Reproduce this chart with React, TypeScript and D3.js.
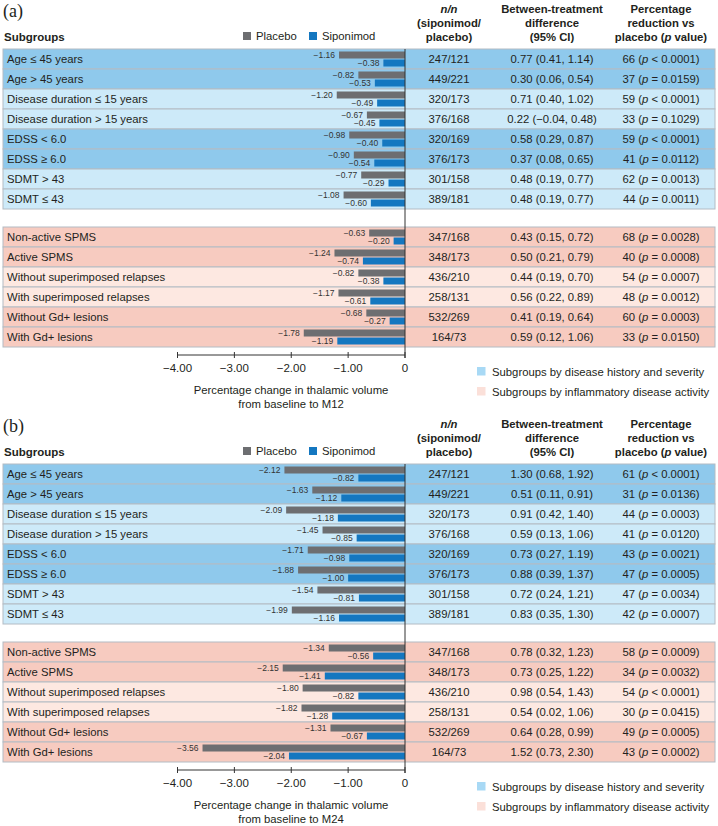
import React from "react";
import * as d3 from "d3";

const subgroups = [
  "Age ≤ 45 years",
  "Age > 45 years",
  "Disease duration ≤ 15 years",
  "Disease duration > 15 years",
  "EDSS < 6.0",
  "EDSS ≥ 6.0",
  "SDMT > 43",
  "SDMT ≤ 43",
  "Non-active SPMS",
  "Active SPMS",
  "Without superimposed relapses",
  "With superimposed relapses",
  "Without Gd+ lesions",
  "With Gd+ lesions",
];
const groupOf = [0, 0, 0, 0, 0, 0, 0, 0, 1, 1, 1, 1, 1, 1];
const nn = [
  "247/121", "449/221", "320/173", "376/168", "320/169", "376/173", "301/158",
  "389/181", "347/168", "348/173", "436/210", "258/131", "532/269", "164/73",
];

const placeboM12 = [-1.16, -0.82, -1.2, -0.67, -0.98, -0.9, -0.77, -1.08, -0.63, -1.24, -0.82, -1.17, -0.68, -1.78];
const siponimodM12 = [-0.38, -0.53, -0.49, -0.45, -0.4, -0.54, -0.29, -0.6, -0.2, -0.74, -0.38, -0.61, -0.27, -1.19];
const diffM12 = [
  "0.77 (0.41, 1.14)", "0.30 (0.06, 0.54)", "0.71 (0.40, 1.02)", "0.22 (−0.04, 0.48)",
  "0.58 (0.29, 0.87)", "0.37 (0.08, 0.65)", "0.48 (0.19, 0.77)", "0.48 (0.19, 0.77)",
  "0.43 (0.15, 0.72)", "0.50 (0.21, 0.79)", "0.44 (0.19, 0.70)", "0.56 (0.22, 0.89)",
  "0.41 (0.19, 0.64)", "0.59 (0.12, 1.06)",
];
const reductionM12 = [66, 37, 59, 33, 59, 41, 62, 44, 68, 40, 54, 48, 60, 33];
const pOpM12 = ["<", "=", "<", "=", "<", "=", "=", "=", "=", "=", "=", "=", "=", "="];
const pValM12 = ["0.0001", "0.0159", "0.0001", "0.1029", "0.0001", "0.0112", "0.0013", "0.0011", "0.0028", "0.0008", "0.0007", "0.0012", "0.0003", "0.0150"];

const placeboM24 = [-2.12, -1.63, -2.09, -1.45, -1.71, -1.88, -1.54, -1.99, -1.34, -2.15, -1.8, -1.82, -1.31, -3.56];
const siponimodM24 = [-0.82, -1.12, -1.18, -0.85, -0.98, -1.0, -0.81, -1.16, -0.56, -1.41, -0.82, -1.28, -0.67, -2.04];
const diffM24 = [
  "1.30 (0.68, 1.92)", "0.51 (0.11, 0.91)", "0.91 (0.42, 1.40)", "0.59 (0.13, 1.06)",
  "0.73 (0.27, 1.19)", "0.88 (0.39, 1.37)", "0.72 (0.24, 1.21)", "0.83 (0.35, 1.30)",
  "0.78 (0.32, 1.23)", "0.73 (0.25, 1.22)", "0.98 (0.54, 1.43)", "0.54 (0.02, 1.06)",
  "0.64 (0.28, 0.99)", "1.52 (0.73, 2.30)",
];
const reductionM24 = [61, 31, 44, 41, 43, 47, 47, 42, 58, 34, 54, 30, 49, 43];
const pOpM24 = ["<", "=", "=", "=", "=", "=", "=", "=", "=", "=", "<", "=", "=", "="];
const pValM24 = ["0.0001", "0.0136", "0.0003", "0.0120", "0.0021", "0.0005", "0.0034", "0.0007", "0.0009", "0.0032", "0.0001", "0.0415", "0.0005", "0.0002"];

const axisTicks = [-4, -3, -2, -1, 0];
const legendTreatments = ["Placebo", "Siponimod"];
const legendGroups = ["Subgroups by disease history and severity", "Subgroups by inflammatory disease activity"];

const FONT = "'Liberation Sans', Arial, Helvetica, sans-serif";
const C_PLACEBO = "#6d6e71";
const C_SIPO = "#1477c0";
const ROW_COLORS = [
  ["#8fc9ec", "#cdeaf9"],
  ["#f7cbc0", "#fde8e1"],
];
const LEGEND_COLORS = ["#a8d9f5", "#fbe0d9"];
const TEXT = "#231f20";

const fmtNeg = (v: number) => (v < 0 ? "−" + Math.abs(v).toFixed(2) : v === 0 ? "0" : v.toFixed(2));

function Panel({ oy, label, placebo, sipo, diff, red, pOp, pVal, month }: any) {
  const x = d3.scaleLinear().domain([-4, 0]).range([177.5, 405]);
  const rowH = 20;
  const tableTop = 49;
  const group2Top = 227;
  const rowTop = (i: number) => (groupOf[i] === 0 ? tableTop + i * rowH : group2Top + (i - 8) * rowH);
  const left = 3;
  const right = 715;
  const axisY = 355;
  const colN = 449;
  const colD = 552;
  const colP = 661;
  return (
    <g transform={`translate(0,${oy})`} fontFamily={FONT} fill={TEXT}>
      <text x={3} y={17} fontFamily="'Liberation Serif', 'Times New Roman', serif" fontSize={18}>
        {label}
      </text>
      <text x={4} y={41} fontWeight="bold" fontSize={11.5}>Subgroups</text>
      {legendTreatments.map((t, k) => {
        const lx = k === 0 ? 243 : 309;
        return (
          <g key={t}>
            <rect x={lx} y={32} width={8} height={8} fill={k === 0 ? C_PLACEBO : C_SIPO} />
            <text x={lx + 13} y={40} fontSize={11.3}>{t}</text>
          </g>
        );
      })}
      <g fontWeight="bold" fontSize={11.3} textAnchor="middle">
        <text x={colN} y={13} fontStyle="italic">n/n</text>
        <text x={colN} y={27}>(siponimod/</text>
        <text x={colN} y={41}>placebo)</text>
        <text x={colD} y={13}>Between-treatment</text>
        <text x={colD} y={27}>difference</text>
        <text x={colD} y={41}>(95% CI)</text>
        <text x={colP} y={13}>Percentage</text>
        <text x={colP} y={27}>reduction vs</text>
        <text x={colP} y={41}>
          placebo (<tspan fontStyle="italic">p</tspan> value)
        </text>
      </g>
      {subgroups.map((s, i) => {
        const t = rowTop(i);
        const within = groupOf[i] === 0 ? i : i - 8;
        const fill = ROW_COLORS[groupOf[i]][Math.floor(within / 2) % 2];
        return (
          <rect key={"bg" + i} x={left} y={t} width={right - left} height={rowH} fill={fill} stroke="#b3bcc4" strokeWidth={1} />
        );
      })}
      {subgroups.map((s, i) => {
        const t = rowTop(i);
        const cy = t + rowH / 2 + 4;
        return (
          <g key={"r" + i}>
            <text x={7} y={cy} fontSize={11.3}>{s}</text>
            <rect x={x(placebo[i])} y={t + 2.5} width={x(0) - x(placebo[i])} height={7} fill={C_PLACEBO} />
            <rect x={x(sipo[i])} y={t + 10.5} width={x(0) - x(sipo[i])} height={7} fill={C_SIPO} />
            <text x={x(placebo[i]) - 4} y={t + 6 + 3} fontSize={8.5} textAnchor="end" fill="#333">
              {fmtNeg(placebo[i])}
            </text>
            <text x={x(sipo[i]) - 4} y={t + 14 + 3} fontSize={8.5} textAnchor="end" fill="#333">
              {fmtNeg(sipo[i])}
            </text>
            <text x={colN} y={cy} fontSize={11.3} textAnchor="middle">{nn[i]}</text>
            <text x={colD} y={cy} fontSize={11.3} textAnchor="middle">{diff[i]}</text>
            <text x={colP} y={cy} fontSize={11.3} textAnchor="middle">
              {red[i]} (<tspan fontStyle="italic">p</tspan> {pOp[i]} {pVal[i]})
            </text>
          </g>
        );
      })}
      <line x1={x(0)} x2={x(0)} y1={tableTop} y2={axisY + 3} stroke="#333" strokeWidth={1} />
      <line x1={x(-4)} x2={x(0)} y1={axisY} y2={axisY} stroke="#333" strokeWidth={1} />
      {axisTicks.map((v) => (
        <g key={v}>
          <line x1={x(v)} x2={x(v)} y1={axisY - 3} y2={axisY + 3} stroke="#333" strokeWidth={1} />
          <text x={x(v)} y={axisY + 17} fontSize={11.5} textAnchor="middle">{fmtNeg(v)}</text>
        </g>
      ))}
      <text x={291} y={394} fontSize={11.3} textAnchor="middle">Percentage change in thalamic volume</text>
      <text x={291} y={408} fontSize={11.3} textAnchor="middle">from baseline to {month}</text>
      {legendGroups.map((g, k) => (
        <g key={g}>
          <rect x={477} y={367 + k * 20} width={8.5} height={8.5} fill={LEGEND_COLORS[k]} />
          <text x={492} y={375.5 + k * 20} fontSize={11.3}>{g}</text>
        </g>
      ))}
    </g>
  );
}

export default function App() {
  return (
    <svg width={718} height={826} style={{ position: "absolute", left: 0, top: 0, background: "#fff" }}>
      <rect width={718} height={826} fill="#fff" />
      <Panel oy={0} label="(a)" placebo={placeboM12} sipo={siponimodM12} diff={diffM12} red={reductionM12} pOp={pOpM12} pVal={pValM12} month="M12" />
      <Panel oy={415} label="(b)" placebo={placeboM24} sipo={siponimodM24} diff={diffM24} red={reductionM24} pOp={pOpM24} pVal={pValM24} month="M24" />
    </svg>
  );
}
